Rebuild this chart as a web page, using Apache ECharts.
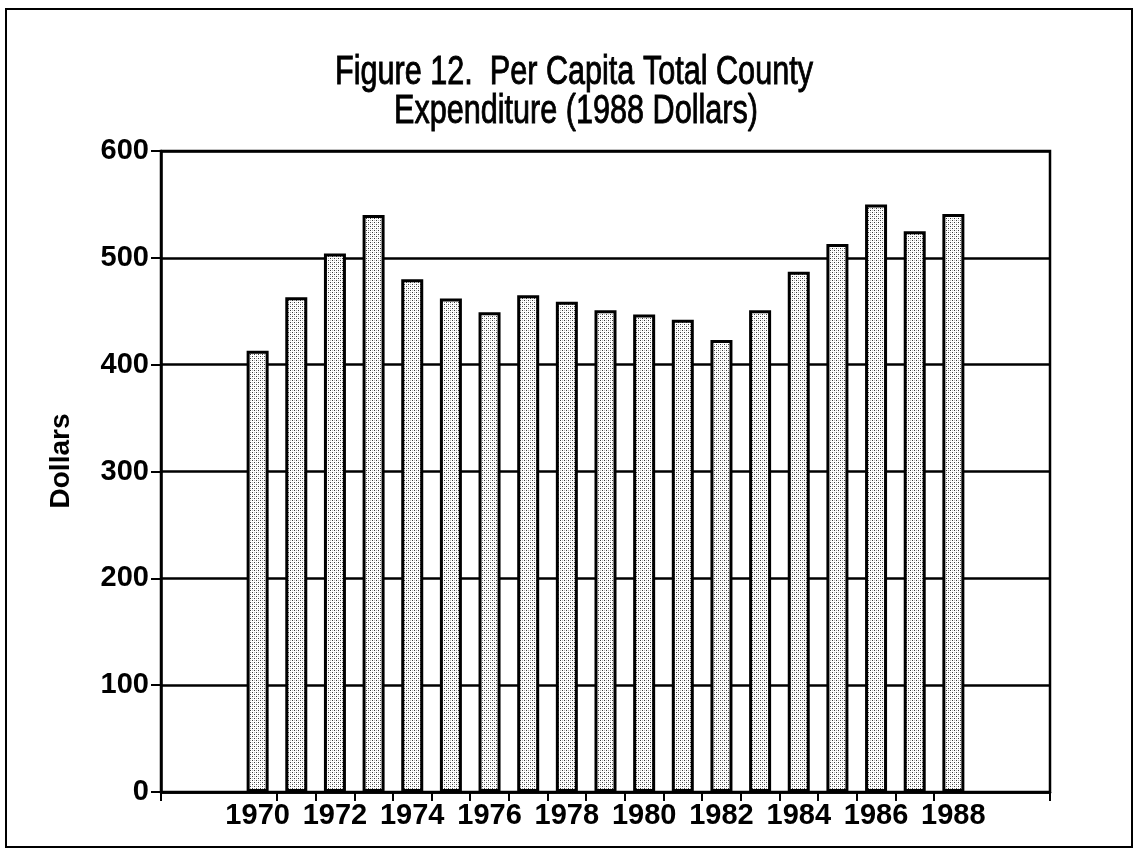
<!DOCTYPE html>
<html>
<head>
<meta charset="utf-8">
<script src="https://cdn.jsdelivr.net/npm/echarts@6/dist/echarts.min.js"></script>
<style>
  html, body { margin: 0; padding: 0; background: #fff; }
  #chart { width: 1134px; height: 858px; }
</style>
</head>
<body>
<div id="chart"></div>
<script>
// ---- data ----
const years = [1970, 1971, 1972, 1973, 1974, 1975, 1976, 1977, 1978, 1979,
               1980, 1981, 1982, 1983, 1984, 1985, 1986, 1987, 1988];
const perCapitaDollars = [413, 463, 504, 540, 480, 462, 449, 465, 459, 451,
                          447, 442, 423, 451, 487, 513, 550, 525, 541];
const yTicks = [0, 100, 200, 300, 400, 500, 600];
const titleLines = ['Figure 12.  Per Capita Total County', 'Expenditure (1988 Dollars)'];
const yAxisTitle = 'Dollars';

// two empty slots on each side of the bars, as in the original figure
const padLeft = 2, padRight = 2;
const categories = [];
for (let i = 0; i < padLeft; i++) categories.push('');
years.forEach(y => categories.push(String(y)));
for (let i = 0; i < padRight; i++) categories.push('');
const barData = [];
for (let i = 0; i < padLeft; i++) barData.push(null);
perCapitaDollars.forEach(v => barData.push(v));
for (let i = 0; i < padRight; i++) barData.push(null);

// stippled fill pattern
const tile = document.createElement('canvas');
tile.width = 4; tile.height = 4;
const tctx = tile.getContext('2d');
tctx.fillStyle = '#ffffff'; tctx.fillRect(0, 0, 4, 4);
tctx.fillStyle = '#3a3a3a';
tctx.fillRect(0, 0, 1, 1);
tctx.fillRect(2, 2, 1, 1);
tctx.fillStyle = '#b8b8b8';
tctx.fillRect(2, 0, 1, 1);
tctx.fillRect(0, 2, 1, 1);

const firstBar = padLeft, lastBar = padLeft + years.length - 1;
const FONT = '"Liberation Sans", Arial, Helvetica, sans-serif';

const chart = echarts.init(document.getElementById('chart'), null, { renderer: 'canvas' });
chart.setOption({
  animation: false,
  backgroundColor: '#ffffff',
  grid: {
    left: 161, top: 151, width: 889, height: 641,
    show: true, borderColor: '#000', borderWidth: 2.5, backgroundColor: 'transparent'
  },
  xAxis: {
    type: 'category',
    data: categories,
    boundaryGap: true,
    axisLine: { show: true, lineStyle: { color: '#000', width: 2.5 } },
    axisTick: {
      show: true, length: 9, lineStyle: { color: '#000', width: 2 },
      interval: function (idx) { return idx === 0 || (idx > firstBar && idx <= lastBar); }
    },
    axisLabel: {
      interval: 0,
      margin: 9,
      color: '#000',
      fontFamily: FONT, fontWeight: 'bold', fontSize: 29,
      formatter: function (v) { return v !== '' && (+v % 2 === 0) ? v : ''; }
    },
    splitLine: { show: false }
  },
  yAxis: {
    type: 'value',
    min: yTicks[0], max: yTicks[yTicks.length - 1], interval: 100,
    axisLine: { show: true, lineStyle: { color: '#000', width: 2.5 } },
    axisTick: { show: true, length: 10, lineStyle: { color: '#000', width: 2 } },
    axisLabel: { margin: 12, color: '#000', fontFamily: FONT, fontWeight: 'bold', fontSize: 29 },
    splitLine: { show: true, lineStyle: { color: '#000', width: 2.5 } }
  },
  series: [{
    type: 'bar',
    data: barData,
    barWidth: 22,
    itemStyle: {
      color: { image: tile, repeat: 'repeat' },
      borderColor: '#000',
      borderWidth: 3
    }
  }],
  graphic: [
    { type: 'rect', silent: true, z: 100,
      shape: { x: 6, y: 9, width: 1126, height: 838 },
      style: { fill: 'none', stroke: '#000', lineWidth: 2 } },
    { type: 'text', x: 574, y: 73, scaleX: 0.765, z: 100,
      style: { text: titleLines[0], font: 'normal 40px ' + FONT, fill: '#000',
               stroke: '#000', lineWidth: 0.9,
               textAlign: 'center', textVerticalAlign: 'middle' } },
    { type: 'text', x: 576, y: 112, scaleX: 0.765, z: 100,
      style: { text: titleLines[1], font: 'normal 40px ' + FONT, fill: '#000',
               stroke: '#000', lineWidth: 0.9,
               textAlign: 'center', textVerticalAlign: 'middle' } },
    { type: 'text', x: 61, y: 461, rotation: Math.PI / 2, z: 100,
      style: { text: yAxisTitle, font: 'bold 28px ' + FONT, fill: '#000',
               textAlign: 'center', textVerticalAlign: 'middle' } }
  ]
});
</script>
</body>
</html>
